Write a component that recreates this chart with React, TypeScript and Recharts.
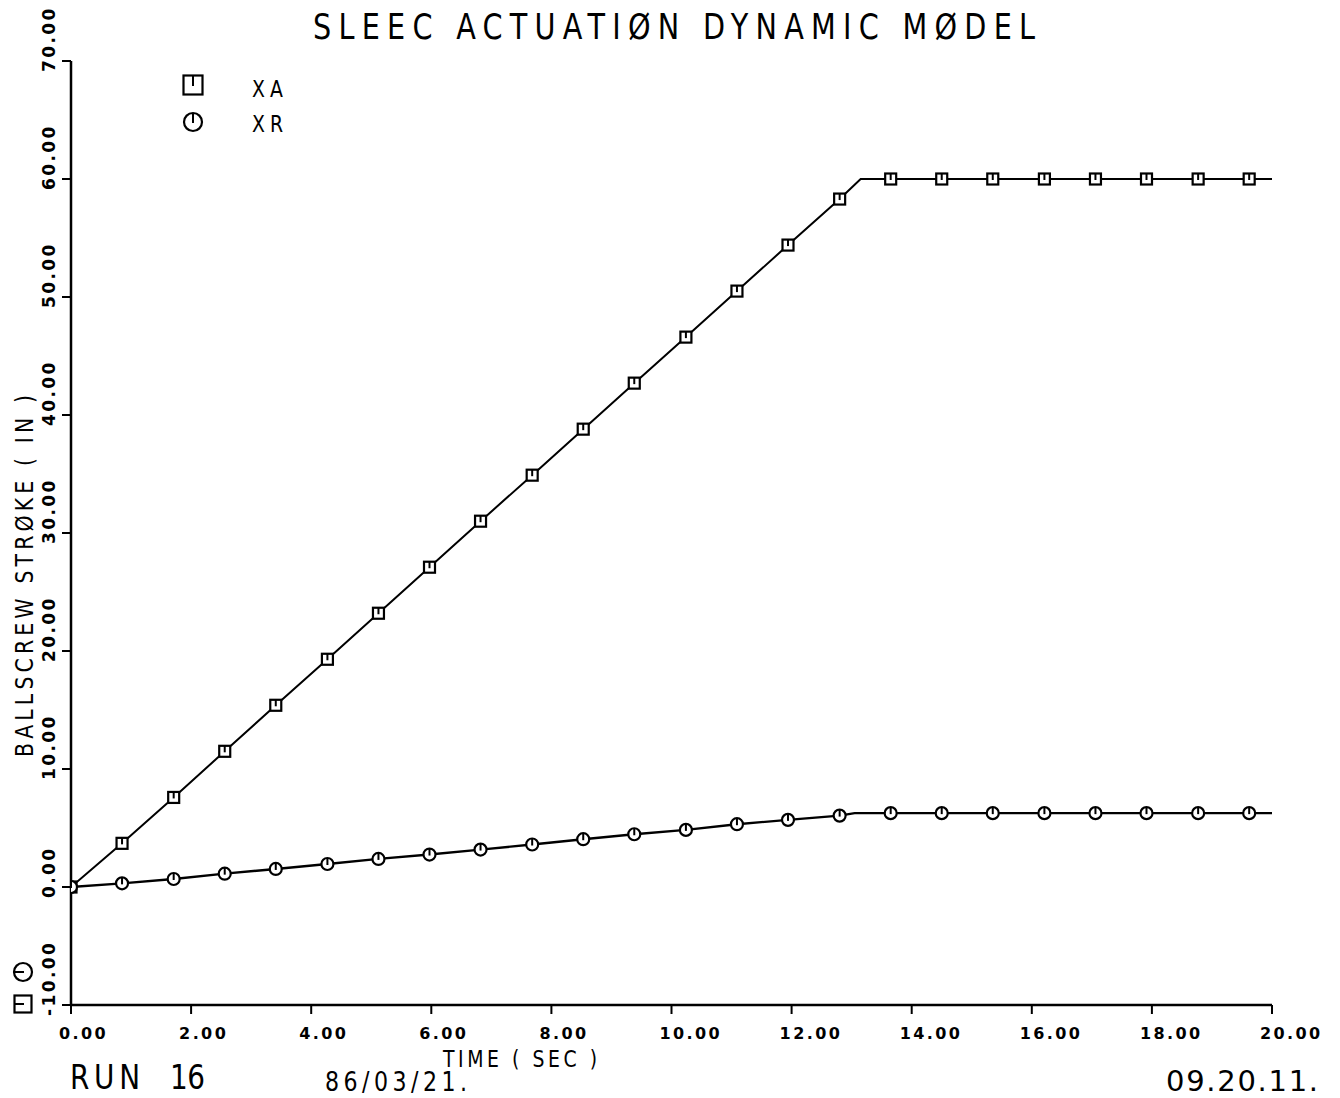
import React from 'react';
import { LineChart, Line, XAxis, YAxis } from 'recharts';

// sample times where the plotter drew a symbol (sec)
const markTimes = [
  0, 0.85, 1.71, 2.56, 3.41, 4.27, 5.12, 5.97, 6.82, 7.68, 8.53, 9.38,
  10.24, 11.09, 11.94, 12.8, 13.65, 14.5, 15.35, 16.21, 17.06, 17.91, 18.77, 19.62,
];
const xaMarks = [
  0, 3.7, 7.59, 11.5, 15.4, 19.3, 23.2, 27.1, 31.0, 34.9, 38.8, 42.7,
  46.6, 50.5, 54.4, 58.3, 60.0, 60.0, 60.0, 60.0, 60.0, 60.0, 60.0, 60.0,
];
const xrMarks = [
  0, 0.31, 0.68, 1.13, 1.53, 1.95, 2.38, 2.75, 3.17, 3.6, 4.05, 4.47,
  4.84, 5.32, 5.69, 6.05, 6.26, 6.26, 6.26, 6.26, 6.26, 6.26, 6.26, 6.26,
];
// extra line points without a symbol (knee + end of run)
const xaExtraT = [13.15, 20.0];
const xaExtraV = [60.0, 60.0];
const xrExtraT = [13.05, 20.0];
const xrExtraV = [6.26, 6.26];

const xTicks = [0, 2, 4, 6, 8, 10, 12, 14, 16, 18, 20];
const yTicks = [-10, 0, 10, 20, 30, 40, 50, 60, 70];

const buildSeries = (vals: number[], et: number[], ev: number[]) =>
  markTimes
    .map((t, i) => ({ t, v: vals[i], m: true }))
    .concat(et.map((t, i) => ({ t, v: ev[i], m: false })))
    .sort((a, b) => a.t - b.t);

const xaData = buildSeries(xaMarks, xaExtraT, xaExtraV);
const xrData = buildSeries(xrMarks, xrExtraT, xrExtraV);

const INK = '#000';
const SANS = '"DejaVu Sans", sans-serif';

// narrow, widely spaced lettering like the pen plotter's
const PlotText = ({ x, y, len, size, rot = 0, squeeze = 0.82, children }: any) => (
  <g transform={`translate(${x} ${y}) rotate(${rot}) scale(${squeeze} 1)`}>
    <text x={0} y={0} fontFamily={SANS} fontSize={size} textLength={len / squeeze} lengthAdjust="spacing" fill={INK}>
      {children}
    </text>
  </g>
);

const SquareMark = ({ cx, cy, s = 11 }: { cx: number; cy: number; s?: number }) => (
  <g>
    <rect x={cx - s / 2} y={cy - s / 2} width={s} height={s} fill="#fff" stroke={INK} strokeWidth={2.2} />
    <line x1={cx} y1={cy - s / 2} x2={cx} y2={cy + 1} stroke={INK} strokeWidth={2} />
  </g>
);

const CircleMark = ({ cx, cy, r = 6 }: { cx: number; cy: number; r?: number }) => (
  <g>
    <circle cx={cx} cy={cy} r={r} fill="#fff" stroke={INK} strokeWidth={2.2} />
    <line x1={cx} y1={cy - r} x2={cx} y2={cy + 1} stroke={INK} strokeWidth={2} />
  </g>
);

const XTick = (props: any) => {
  const { x, payload } = props;
  return (
    <text x={x - 12} y={1039} fontFamily={SANS} fontWeight="bold" fontSize={16} letterSpacing={2.4} fill={INK}>
      {Number(payload.value).toFixed(2)}
    </text>
  );
};

const YTick = (props: any) => {
  const { y, payload } = props;
  return (
    <text
      transform={`translate(55 ${y + 11}) rotate(-90)`}
      textAnchor="start"
      fontFamily={SANS}
      fontWeight="bold"
      fontSize={17}
      letterSpacing={2.4}
      fill={INK}
    >
      {Number(payload.value).toFixed(2)}
    </text>
  );
};

const dotFor = (kind: 'sq' | 'ci') => (p: any) => {
  if (!p.payload.m) return <g key={`${kind}-${p.index}`} />;
  return kind === 'sq'
    ? <SquareMark key={`${kind}-${p.index}`} cx={p.cx} cy={p.cy} />
    : <CircleMark key={`${kind}-${p.index}`} cx={p.cx} cy={p.cy} />;
};

const App = () => {
  return (
    <div style={{ position: 'absolute', left: 0, top: 0, width: 1340, height: 1098, background: '#fff' }}>
      <LineChart width={1340} height={1098} margin={{ top: 61, right: 68, left: 11, bottom: 53 }}>
        <XAxis
          dataKey="t"
          type="number"
          domain={[0, 20]}
          ticks={xTicks}
          allowDataOverflow
          height={40}
          tickSize={9}
          axisLine={{ stroke: INK, strokeWidth: 2.5 }}
          tickLine={{ stroke: INK, strokeWidth: 2 }}
          tick={<XTick />}
        />
        <YAxis
          type="number"
          domain={[-10, 70]}
          ticks={yTicks}
          width={60}
          tickSize={9}
          axisLine={{ stroke: INK, strokeWidth: 2.5 }}
          tickLine={{ stroke: INK, strokeWidth: 2 }}
          tick={<YTick />}
        />
        <Line
          data={xaData}
          dataKey="v"
          type="linear"
          stroke={INK}
          strokeWidth={2}
          dot={dotFor('sq')}
          activeDot={false}
          isAnimationActive={false}
        />
        <Line
          data={xrData}
          dataKey="v"
          type="linear"
          stroke={INK}
          strokeWidth={2.4}
          dot={dotFor('ci')}
          activeDot={false}
          isAnimationActive={false}
        />
      </LineChart>

      <svg width={1340} height={1098} style={{ position: 'absolute', left: 0, top: 0, pointerEvents: 'none' }}>
        <PlotText x={313} y={39} len={722} size={35}>SLEEC ACTUATIØN DYNAMIC MØDEL</PlotText>

        {/* legend */}
        <SquareMark cx={193} cy={85} s={19} />
        <PlotText x={252} y={97} len={31} size={23}>XA</PlotText>
        <CircleMark cx={193} cy={122} r={9} />
        <PlotText x={252} y={132} len={31} size={23}>XR</PlotText>

        {/* rotated symbol key near the y origin */}
        <g transform="rotate(-90 23 972)">
          <CircleMark cx={23} cy={972} r={9} />
        </g>
        <g transform="rotate(-90 23 1004)">
          <SquareMark cx={23} cy={1004} s={17} />
        </g>

        {/* axis titles */}
        <PlotText x={33} y={757} rot={-90} len={362} size={25}>BALLSCREW STRØKE ( IN )</PlotText>
        <PlotText x={443} y={1067} len={154} size={23}>TIME ( SEC )</PlotText>

        {/* run stamp */}
        <PlotText x={70} y={1089} len={70} size={34}>RUN</PlotText>
        <PlotText x={170} y={1089} len={35} size={34}>16</PlotText>
        <PlotText x={325} y={1091} len={142} size={27}>86/03/21.</PlotText>
        <PlotText x={1166} y={1091} len={152} size={29} squeeze={1}>09.20.11.</PlotText>
      </svg>
    </div>
  );
};

export default App;
